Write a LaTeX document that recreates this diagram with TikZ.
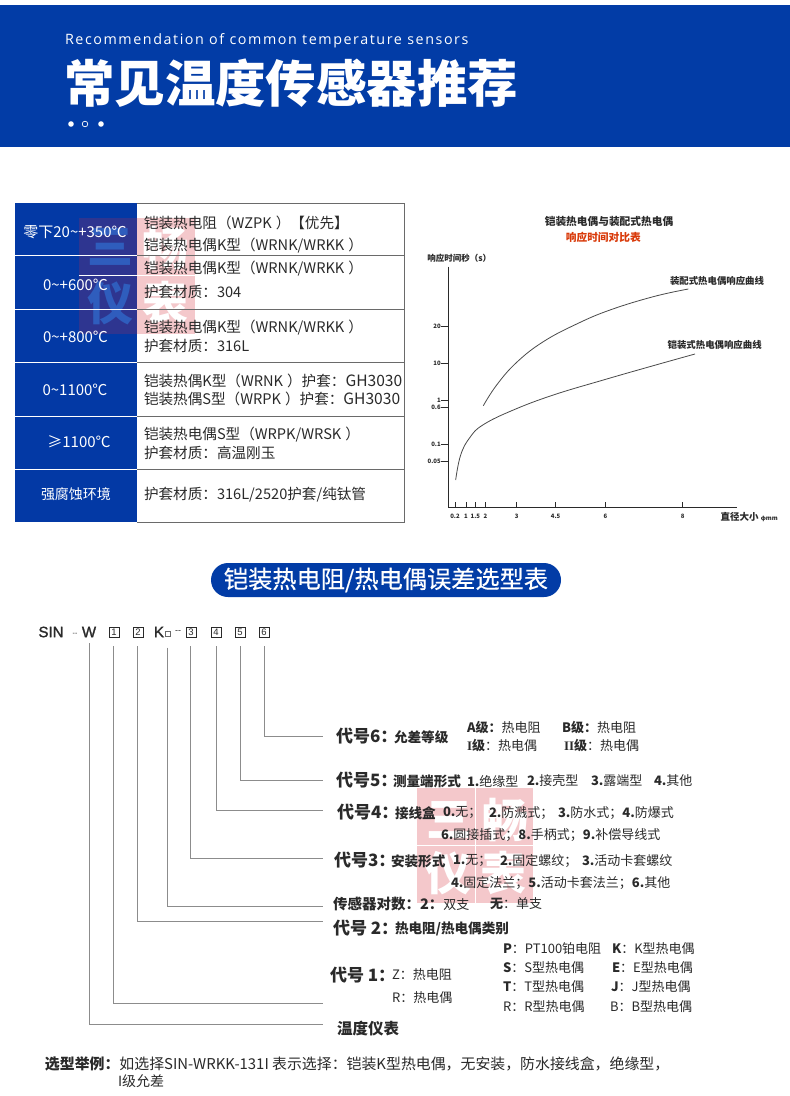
\documentclass[tikz,border=0pt]{standalone}
\usepackage{fontspec}
\setmainfont{Noto Sans CJK SC}
\newfontfamily\enfont[LetterSpace=11]{Open Sans}
\newfontfamily\lat[FakeBold=1.5]{Liberation Sans}
\newfontfamily\latl{Liberation Sans}
\newfontfamily\serifb{Liberation Serif}
\newfontfamily\pillf[FakeBold=0.4]{Noto Sans CJK SC}
\definecolor{hdblue}{HTML}{023CA6}
\definecolor{tblue}{HTML}{0339A5}
\definecolor{wmpink}{HTML}{F4C8CB}
\definecolor{wmdark}{HTML}{2E3590}
\definecolor{wmglyph}{HTML}{2F5DBD}
\definecolor{ink}{HTML}{2A2A2A}
\definecolor{leader}{HTML}{8C8C8C}
\definecolor{redt}{HTML}{D93A0A}
\newcommand{\fs}[1]{\fontsize{#1}{#1}\selectfont}
\newcommand{\pk}{\kern4pt}
\tikzset{
  x=1pt,y=-1pt,
  every node/.style={inner sep=0pt,outer sep=0pt,text=ink},
  tl/.style={anchor=west,font=\fs{14.6},yshift=-1pt},
  hl/.style={anchor=center,font=\fs{15},text=white,yshift=-1pt},
  lb/.style={anchor=west,font=\fs{13}},
  lbb/.style={anchor=west,font=\fs{13.6}\bfseries},
  big/.style={anchor=west,font=\fs{17}\bfseries},
  sm/.style={anchor=center,font=\fs{6}\bfseries},
  wmk/.style={font=\fs{46}\bfseries},
  lead/.style={draw=leader,line width=0.7pt,shorten <=9pt},
  codebox/.style={draw=ink,line width=0.6pt,minimum size=10pt,font=\latl\fs{9.5},text=ink},
  tick/.style={draw=ink,line width=0.6pt},
  curve/.style={draw=ink!85,line width=0.8pt},
  rowline/.style={draw=white,line width=0.8pt},
}
\begin{document}
\begin{tikzpicture}
\useasboundingbox (0,0) rectangle (790,1096);
\fill[white] (0,0) rectangle (790,1096);
% header
\fill[hdblue] (0,5) rectangle (790,147);
\node[anchor=west,text=white,font=\enfont\fs{14.3}] (en) at (65,41) {Recommendation of common temperature sensors};
\node[anchor=west,text=white,font=\fs{50.5}\bfseries] (title) at (64,83) {常见温度传感器推荐};
\fill[white] (71,124) circle (2.8);
\draw[white,line width=0.7pt] (85,124) circle (2.8);
\fill[white] (101,124) circle (2.8);
% table
\fill[tblue] (15,203) rectangle (137,522);
% watermark 1
\fill[wmdark] (79,218) rectangle (137,334);
\fill[wmpink] (137,218) rectangle (195,334);
\begin{scope}
\clip (79,218) rectangle (137,334);
\node[wmk,text=wmglyph] (wa) at (110,247) {三};
\node[wmk,text=wmglyph] (wb) at (110,303) {仪};
\end{scope}
\begin{scope}
\clip (137,218) rectangle (195,334);
\node[wmk,text=white] (wc) at (165,248) {畅};
\node[wmk,text=white] (wd) at (165,303) {表};
\end{scope}
\draw[white,line width=0.6pt] (79,275) -- (195,275);
\draw[draw=ink!70,line width=0.7pt] (137,203) -- (404,203) -- (404,522) -- (137,522);
\foreach \yy in {255,309,362,416,469} {
  \draw[rowline] (15,\yy) -- (137,\yy);
  \draw[draw=ink!70,line width=0.7pt] (137,\yy) -- (404,\yy);
}
\node[hl] (h1) at (75,231) {零下20\textasciitilde{}+350℃};
\node[hl] (h2) at (75.5,284) {0\textasciitilde{}+600℃};
\node[hl] (h3) at (75.5,336) {0\textasciitilde{}+800℃};
\node[hl] (h4) at (75,389) {0\textasciitilde{}1100℃};
\node[hl] (h5) at (79,441) {≥1100℃};
\node[hl,font=\fs{14}] (h6) at (76,493) {强腐蚀环境};
\node[tl] (c1a) at (144,222) {铠装热电阻（WZPK\pk）【优先】};
\node[tl] (c1b) at (144,245) {铠装热电偶K型（WRNK/WRKK\pk）};
\node[tl] (c2a) at (144,268) {铠装热电偶K型（WRNK/WRKK\pk）};
\node[tl] (c2b) at (144,291) {护套材质：304};
\node[tl] (c3a) at (144,327) {铠装热电偶K型（WRNK/WRKK\pk）};
\node[tl] (c3b) at (144,345) {护套材质：316L};
\node[tl] (c4a) at (144,380) {铠装热偶K型（WRNK\pk）护套：{\fs{15.6}GH3030}};
\node[tl] (c4b) at (144,398) {铠装热偶S型（WRPK\pk）护套：{\fs{15.6}GH3030}};
\node[tl] (c5a) at (144,434) {铠装热电偶S型（WRPK/WRSK\pk）};
\node[tl] (c5b) at (144,452) {护套材质：高温刚玉};
\node[tl] (c6a) at (144,494) {护套材质：316L/2520护套/纯钛管};
% chart
\begin{scope}[shift={(420,200)},x=0.33333pt,y=-0.33333pt]
\node[font=\fs{10.7}\bfseries] (ct1) at (567,65) {铠装热电偶与装配式热电偶};
\node[font=\fs{10.7}\bfseries,text=redt] (ct2) at (550,111) {响应时间对比表};
\node[anchor=west,font=\fs{8.5}\bfseries] (yl) at (22,175) {响应时间秒（s）};
\node[anchor=west,font=\fs{9.4}\bfseries] (u1) at (750,243) {装配式热电偶响应曲线};
\node[anchor=west,font=\fs{9.4}\bfseries] (u2) at (743,435) {铠装式热电偶响应曲线};
\node[anchor=west,font=\fs{9.5}\bfseries] (xl) at (902,950) {直径大小 {\fs{6}φmm}};
\coordinate (o) at (85,922);
\coordinate (ytop) at (85,200);
\coordinate (xend) at (952,922);
\draw[draw=ink,line width=0.9pt] (ytop) -- (o) -- (xend);
\foreach \yy/\lab in {378/20,490/10,600/1,621/0.6,732/0.1,785/0.05} {
  \draw[tick] (62,\yy) -- (85,\yy);
  \node[anchor=east,font=\fs{6}\bfseries] at (62,\yy) {\lab};
}
\foreach \xx/\lab in {105/0.2,138/1,166/1.5,196/2,290/3,407/4.5,556/6,788/8} {
  \draw[tick] (\xx,906) -- (\xx,922);
  \node[sm] at (\xx,948) {\lab};
}
\draw[curve] plot[smooth,tension=0.7] coordinates {(190,617) (230,555) (290,487) (370,425) (470,372) (570,330) (700,290) (805,267)};
\draw[curve] plot[smooth,tension=0.7] coordinates {(107,840) (122,765) (150,712) (190,674) (280,630) (400,585) (550,540) (700,497) (825,462)};
\end{scope}
% pill
\node[fill=hdblue,rounded corners=17pt,minimum width=350pt,minimum height=34pt] (pill) at (386,580) {};
\node[text=white,font=\pillf\fs{24.2}] (pillt) at (386,580) {铠装热电阻/热电偶误差选型表};
% code row
\node[anchor=center,font=\lat\fs{15}] (sin) at (51,632) {SIN};
\node[anchor=center,font=\latl\fs{7}] (dash1) at (75,634) {--};
\node[anchor=center,font=\lat\fs{15}] (w) at (89,632) {W};
\node[codebox] (b1) at (114,632) {1};
\node[codebox] (b2) at (138,632) {2};
\node[anchor=center,font=\lat\fs{15}] (k) at (159,632) {K};
\node[draw=ink!70,line width=0.4pt,minimum size=5pt] (kb) at (168,634) {};
\node[anchor=center,font=\latl\fs{9}] (dash2) at (178,632) {--};
\node[codebox] (b3) at (191,632) {3};
\node[codebox] (b4) at (216,632) {4};
\node[codebox] (b5) at (240,632) {5};
\node[codebox] (b6) at (264,632) {6};
\coordinate (e0) at (323,1024);
\coordinate (e1) at (323,1003);
\coordinate (e2) at (323,921);
\coordinate (ek) at (323,906);
\coordinate (e3) at (323,858);
\coordinate (e4) at (323,810);
\coordinate (e5) at (323,780);
\coordinate (e6) at (323,736);
\draw[lead,shorten <=6pt] (w.south) |- (e0);
\draw[lead] (b1.south) ++(-1,0) |- (e1);
\draw[lead] (b2.south) ++(-1,0) |- (e2);
\draw[lead,shorten <=11pt] (kb.south) ++(-1,0) |- (ek);
\draw[lead] (b3.south) ++(-1,0) |- (e3);
\draw[lead] (b4.south) |- (e4);
\draw[lead] (b5.south) |- (e5);
\draw[lead] (b6.south) |- (e6);
% watermark 2
\fill[wmpink] (417,788) rectangle (533,903);
\node[wmk,text=white] (we) at (449,820) {三};
\node[wmk,text=white] (wf) at (505,820) {畅};
\node[wmk,text=white] (wg) at (448,873) {仪};
\node[wmk,text=white] (wh) at (503,873) {表};
\draw[white,line width=0.8pt] (475,788) -- (475,903) (417,845) -- (533,845);
% legend
\node[big] (l6) at (336,736) {代号6：};
\node[lbb] (l6n) at (394,737) {允差等级};
\node[lb] (l6a) at (467,728) {\textbf{A级：}热电阻};
\node[lb] (l6b) at (562,728) {\textbf{B级：}热电阻};
\node[lb] (l6c) at (467,746) {{\serifb\bfseries I}\textbf{级}：热电偶};
\node[lb] (l6d) at (564,746) {{\serifb\bfseries II}\textbf{级}：热电偶};
\node[big] (l5) at (336,780) {代号5：};
\node[lbb] (l5n) at (393,781) {测量端形式};
\node[lb] (l5a) at (467,781) {\textbf{1.}绝缘型};
\node[lb] (l5b) at (527,781) {\textbf{2.}接壳型};
\node[lb] (l5c) at (591,781) {\textbf{3.}露端型};
\node[lb] (l5d) at (654,781) {\textbf{4.}其他};
\node[big] (l4) at (337,812) {代号4：};
\node[lbb] (l4n) at (395,813) {接线盒};
\node[lb] (l4a) at (443,813) {\textbf{0.}无；};
\node[lb] (l4b) at (489,813) {\textbf{2.}防溅式；};
\node[lb] (l4c) at (558,813) {\textbf{3.}防水式；\textbf{4.}防爆式};
\node[lb] (l4d) at (441,835) {\textbf{6.}圆接插式；\textbf{8.}手柄式；\textbf{9.}补偿导线式};
\node[big] (l3) at (334,860) {代号3：};
\node[lbb] (l3n) at (391,861) {安装形式};
\node[lb] (l3a) at (453,861) {\textbf{1.}无；};
\node[lb] (l3b) at (500,861) {\textbf{2.}固定螺纹；};
\node[lb] (l3c) at (582,861) {\textbf{3.}活动卡套螺纹};
\node[lb] (l3d) at (451,883) {\textbf{4.}固定法兰；\textbf{5.}活动卡套法兰；\textbf{6.}其他};
\node[lb] (lk) at (333,904) {\textbf{\fs{14.5}传感器对数：2：}双支};
\node[lb] (lk2) at (490,904) {\textbf{无}：单支};
\node[big] (l2) at (333,928) {代号 2：};
\node[lbb] (l2n) at (395,929) {热电阻/热电偶类别};
\node[lb] (t1) at (503,949) {\textbf{P}：PT100铂电阻};
\node[lb] (t2) at (612,949) {\textbf{K}：K型热电偶};
\node[lb] (t3) at (503,968) {\textbf{S}：S型热电偶};
\node[lb] (t4) at (612,968) {\textbf{E}：E型热电偶};
\node[lb] (t5) at (503,987) {\textbf{T}：T型热电偶};
\node[lb] (t6) at (611,987) {\textbf{J}：J型热电偶};
\node[lb] (t7) at (503,1007) {R：R型热电偶};
\node[lb] (t8) at (610,1007) {B：B型热电偶};
\node[big] (l1) at (330,975) {代号 1：};
\node[lb] (l1a) at (392,975) {Z：热电阻};
\node[lb] (l1b) at (392,998) {R：热电偶};
\node[big,font=\fs{15.5}\bfseries] (l0) at (337,1029) {温度仪表};
\node[anchor=west,font=\fs{14.9}] (ex1) at (45,1064) {\textbf{选型举例：}如选择SIN-WRKK-131I 表示选择：铠装K型热电偶，无安装，防水接线盒，绝缘型，};
\node[anchor=west,font=\fs{14}] (ex2) at (118,1081) {I级允差};
\end{tikzpicture}
\end{document}
